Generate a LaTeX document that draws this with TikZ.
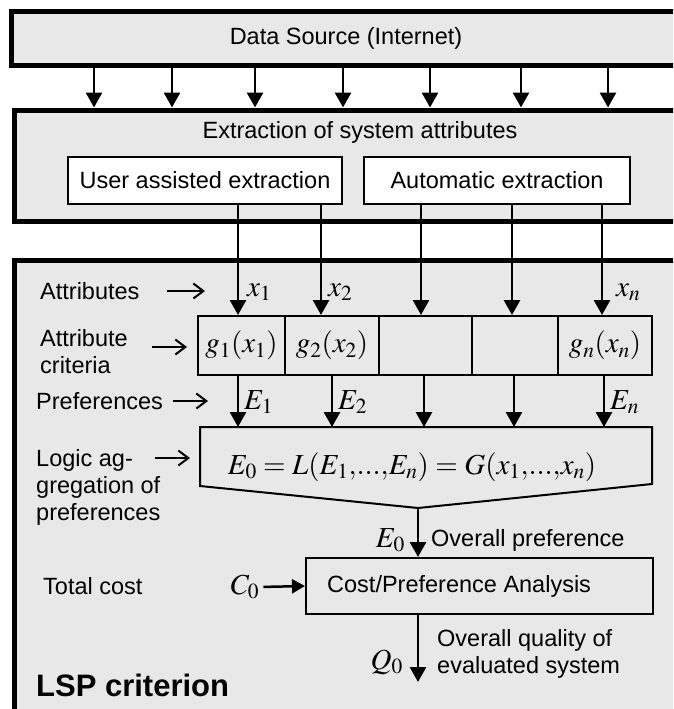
\documentclass[tikz,border=0pt]{standalone}
\usepackage{mathptmx}
\usepackage[no-math]{fontspec}
\setmainfont{Liberation Sans}
\usetikzlibrary{arrows.meta}
\definecolor{panel}{RGB}{232,232,232}
\tikzstyle{frame}=[draw, line width=5pt, fill=panel, inner sep=0pt]
\tikzstyle{srcbox}=[draw, line width=2.5pt, fill=white, inner sep=0pt]
\tikzstyle{cell}=[draw, line width=2pt, fill=panel, inner sep=0pt]
\tikzstyle{flow}=[line width=2.8pt, -{Triangle[length=15pt,width=16pt]}]
\tikzstyle{pointer}=[line width=2pt, -{Straight Barb[length=10pt,width=15pt]}]
\tikzstyle{txt}=[font=\fontsize{23.5}{27}\selectfont, inner sep=0pt]
\tikzstyle{sym}=[font=\fontsize{29}{29}\selectfont, inner sep=0pt]

\begin{document}
\begin{tikzpicture}[x=1pt, y=-1pt]
    \useasboundingbox (0,0) rectangle (673,709);
    \clip (0,0) rectangle (673,709);
    \fill[white] (0,0) rectangle (673,709);
% Frames
    \node[frame, txt, minimum width=668.3pt, minimum height=53.8pt] (src) at (346,38.6) {Data Source (Internet)};
    \node[frame, minimum width=692pt, minimum height=111.5pt] (ext) at (360,165.75) {};
    \node[txt] (exttitle) at (360,132) {Extraction of system attributes};
    \node[frame, minimum width=706pt, minimum height=470pt] (lsp) at (367,495) {};
% Extraction boxes
    \node[srcbox, txt, minimum width=274pt, minimum height=47pt] (user) at (205,180.5) {User assisted extraction};
    \node[srcbox, txt, minimum width=266pt, minimum height=47pt] (auto) at (497,180.5) {Automatic extraction};
% Data source to extraction
    \draw[flow] (94,0 |- src.south) -- (94,0 |- ext.north);
    \draw[flow] (172,0 |- src.south) -- (172,0 |- ext.north);
    \draw[flow] (255,0 |- src.south) -- (255,0 |- ext.north);
    \draw[flow] (343,0 |- src.south) -- (343,0 |- ext.north);
    \draw[flow] (430,0 |- src.south) -- (430,0 |- ext.north);
    \draw[flow] (521,0 |- src.south) -- (521,0 |- ext.north);
    \draw[flow] (608,0 |- src.south) -- (608,0 |- ext.north);
% Attribute criteria
    \node[cell, sym, minimum width=87pt, minimum height=59pt] (g1) at (241.5,345.5) {$g_1(x_1)$};
    \node[cell, sym, minimum width=94pt, minimum height=59pt] (g2) at (332,345.5) {$g_2(x_2)$};
    \node[cell, sym, minimum width=93pt, minimum height=59pt] (g3) at (425.5,345.5) {};
    \node[cell, sym, minimum width=86pt, minimum height=59pt] (g4) at (515,345.5) {};
    \node[cell, sym, minimum width=94pt, minimum height=59pt] (gn) at (605,345.5) {$g_n(x_n)$};
% Attributes
    \draw[flow] (238,0 |- user.south) -- (238,0 |- g1.north);
    \draw[flow] (321,0 |- user.south) -- (321,0 |- g2.north);
    \draw[flow] (421,0 |- auto.south) -- (421,0 |- g3.north);
    \draw[flow] (512,0 |- auto.south) -- (512,0 |- g4.north);
    \draw[flow] (602,0 |- auto.south) -- (602,0 |- gn.north);
    \node[sym, anchor=west] (x1) at (247,292) {$x_1$};
    \node[sym, anchor=west] (x2) at (328,292) {$x_2$};
    \node[sym, anchor=west] (xn) at (616,292) {$x_n$};
% Logic aggregation
    \coordinate (lnw) at (200,427);
    \coordinate (lne) at (652,427);
    \coordinate (lse) at (652,484);
    \coordinate (apex) at (418,508);
    \coordinate (lsw) at (200,486);
    \draw[line width=2pt, fill=panel] (lnw) -- (lne) -- (lse) -- (apex) -- (lsw) -- cycle;
    \node[sym] (eq) at (412,467) {$E_0=L(E_1{,}...{,}E_n)=G(x_1{,}...{,}x_n)$};
% Preferences
    \draw[flow] (238,0 |- g1.south) -- (238,0 |- lnw);
    \draw[flow] (332,0 |- g2.south) -- (332,0 |- lnw);
    \draw[flow] (424,0 |- g3.south) -- (424,0 |- lnw);
    \draw[flow] (514,0 |- g4.south) -- (514,0 |- lnw);
    \draw[flow] (604,0 |- gn.south) -- (604,0 |- lnw);
    \node[sym, anchor=west] (e1) at (244,402) {$E_1$};
    \node[sym, anchor=west] (e2) at (338,402) {$E_2$};
    \node[sym, anchor=west] (en) at (610,402) {$E_n$};
% Cost/preference analysis
    \node[cell, minimum width=347pt, minimum height=56pt] (cost) at (479.5,586) {};
    \node[txt, anchor=west] (costtxt) at (327,586) {Cost/Preference Analysis};
    \draw[flow] (apex) -- (apex |- cost.north);
    \node[sym, anchor=east] (e0) at (405,540) {$E_0$};
    \node[txt, anchor=west] (overall) at (431,540) {Overall preference};
    \node[sym] (c0) at (245,587) {$C_0$};
    \draw[flow, line width=2.5pt, -{Triangle[length=13pt,width=14pt]}, shorten <=4pt] (c0.east) -- (cost.west);
    \coordinate (q0end) at (418,682);
    \draw[flow] (apex |- cost.south) -- (q0end);
    \node[sym, anchor=east] (q0) at (403,662) {$Q_0$};
    \node[txt, anchor=west, align=left] (quality) at (437,653.5) {Overall quality of\\evaluated system};
% Left labels
    \node[txt, anchor=west] (attr) at (40,291) {Attributes};
    \node[txt, anchor=west, align=left] (crit) at (40,351.5) {Attribute\\criteria};
    \node[txt, anchor=west] (pref) at (36,401) {Preferences};
    \node[txt, anchor=west, align=left] (logic) at (36,487) {Logic ag-\\gregation of\\preferences};
    \node[txt, anchor=west] (cost label) at (43,586) {Total cost};
    \node[anchor=west, inner sep=0pt, font=\fontsize{31}{31}\selectfont\bfseries] (title) at (36,685) {LSP criterion};
    \coordinate (pa1) at (167,291);
    \coordinate (pb1) at (205,291);
    \coordinate (pa2) at (152,347);
    \coordinate (pb2) at (187,347);
    \coordinate (pa3) at (173,401);
    \coordinate (pb3) at (208,401);
    \coordinate (pa4) at (155,458);
    \coordinate (pb4) at (190,458);
    \draw[pointer] (pa1) -- (pb1);
    \draw[pointer] (pa2) -- (pb2);
    \draw[pointer] (pa3) -- (pb3);
    \draw[pointer] (pa4) -- (pb4);
\end{tikzpicture}
\end{document}
